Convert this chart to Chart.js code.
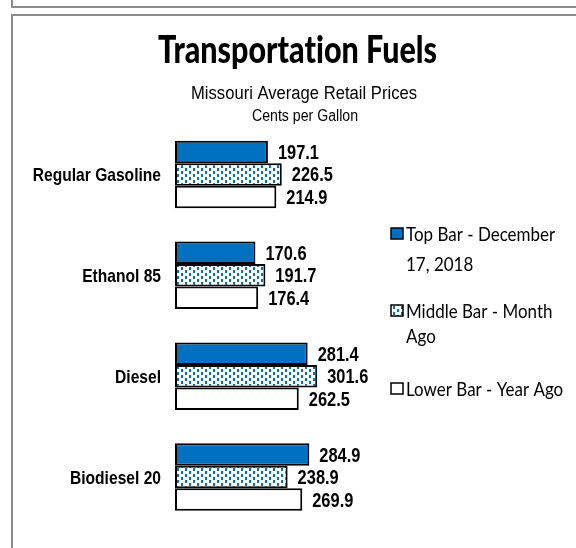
<!DOCTYPE html>
<html><head><meta charset="utf-8">
<script src="https://cdn.jsdelivr.net/npm/chart.js@4.4.1/dist/chart.umd.min.js"></script>
<style>html,body{margin:0;padding:0;background:#fff;overflow:hidden}canvas{display:block}</style>
</head><body>
<canvas id="c" width="576" height="548"></canvas>
<script>
const categories = ['Regular Gasoline', 'Ethanol 85', 'Diesel', 'Biodiesel 20'];
const currentPrices = [197.1, 170.6, 281.4, 284.9];
const monthAgoPrices = [226.5, 191.7, 301.6, 238.9];
const yearAgoPrices = [214.9, 176.4, 262.5, 269.9];
const seriesNames = [['Top Bar - December', '17, 2018'], ['Middle Bar - Month', 'Ago'], ['Lower Bar - Year Ago']];
const titleText = 'Transportation Fuels';
const subtitleText = 'Missouri Average Retail Prices';
const unitText = 'Cents per Gallon';

const BLUE = '#0070C0';
const canvas = document.getElementById('c');
const ctx = canvas.getContext('2d');

function makePattern() {
  const t = document.createElement('canvas');
  t.width = 8; t.height = 6;
  const g = t.getContext('2d');
  g.fillStyle = '#fff'; g.fillRect(0, 0, 8, 6);
  g.fillStyle = BLUE;
  g.fillRect(1, 0, 2, 3);
  g.fillRect(5, 3, 2, 3);
  return ctx.createPattern(t, 'repeat');
}
const dotPattern = makePattern();

function drawScaled(c, text, x, y, font, align, sx, color) {
  c.save();
  c.font = font;
  if ('letterSpacing' in c) c.letterSpacing = '0.01px';
  c.fillStyle = color || '#000';
  c.textAlign = align;
  c.textBaseline = 'alphabetic';
  c.translate(x, y);
  c.scale(sx, 1);
  c.fillText(text, 0, 0);
  c.restore();
}
function drawFit(c, text, x, y, font, targetW, align, color) {
  c.save(); c.font = font;
  if ('letterSpacing' in c) c.letterSpacing = '0.01px';
  const w = c.measureText(text).width;
  c.restore();
  drawScaled(c, text, x, y, font, align, targetW / w, color);
}

const decorPlugin = {
  id: 'decor',
  afterDatasetsDraw(chart) {
    const c = chart.ctx;
    // frame lines
    c.save();
    c.fillStyle = '#8c8c8c';
    c.fillRect(11, 0, 2, 8);
    c.fillRect(11, 6, 565, 2);
    c.fillRect(11, 14, 565, 2);
    c.fillRect(11, 14, 2, 534);
    c.restore();

    // titles
    drawFit(c, titleText, 297.5, 63, '900 38px Lato', 279, 'center');
    drawFit(c, subtitleText, 304, 99, '18px "Liberation Sans"', 226, 'center');
    drawFit(c, unitText, 305, 121, '16px "Liberation Sans"', 106, 'center');

    // category labels
    const ys = chart.scales.y;
    categories.forEach((lab, i) => {
      const y = ys.getPixelForValue(i);
      drawScaled(c, lab, 161, y + 7, 'bold 19px "Liberation Sans"', 'right', 0.82);
    });

    // data labels
    chart.data.datasets.forEach((ds, di) => {
      const meta = chart.getDatasetMeta(di);
      meta.data.forEach((bar, j) => {
        drawScaled(c, ds.data[j].toFixed(1), bar.x + 10, bar.y + 7, 'bold 20px "Liberation Sans"', 'left', 0.82);
      });
    });

    // legend
    c.save(); c.font = '20px Lato';
    const lsx = 149 / c.measureText(seriesNames[0][0]).width;
    c.restore();
    const baselines = [[241, 271], [318, 343], [396]];
    const fills = [BLUE, dotPattern, '#fff'];
    seriesNames.forEach((lines, i) => {
      const b0 = baselines[i][0];
      c.save();
      c.fillStyle = fills[i];
      c.fillRect(391, b0 - 13, 12, 11);
      c.strokeStyle = '#000';
      c.lineWidth = 1.5;
      c.strokeRect(391, b0 - 13, 12, 11);
      c.restore();
      lines.forEach((ln, k) => {
        drawScaled(c, ln, 406, baselines[i][k], '20px Lato', 'left', lsx);
      });
    });
  }
};

new Chart(ctx, {
  type: 'bar',
  data: {
    labels: categories,
    datasets: [
      { label: seriesNames[0].join(' '), data: currentPrices, backgroundColor: BLUE, borderColor: '#000', borderWidth: 2, borderSkipped: false },
      { label: seriesNames[1].join(' '), data: monthAgoPrices, backgroundColor: dotPattern, borderColor: '#000', borderWidth: 2, borderSkipped: false },
      { label: seriesNames[2].join(' '), data: yearAgoPrices, backgroundColor: '#fff', borderColor: '#000', borderWidth: 2, borderSkipped: false }
    ]
  },
  options: {
    indexAxis: 'y',
    responsive: false,
    animation: false,
    layout: { padding: { top: 124, bottom: 20.5, left: 0, right: 203 } },
    datasets: { bar: { categoryPercentage: 0.67, barPercentage: 1 } },
    plugins: { legend: { display: false }, tooltip: { enabled: false }, title: { display: false } },
    scales: {
      x: { display: false, min: 0, max: 420 },
      y: {
        grid: { display: false },
        border: { display: false },
        ticks: { display: false },
        afterFit(s) { s.width = 175; }
      }
    }
  },
  plugins: [decorPlugin]
});
</script>
</body></html>
